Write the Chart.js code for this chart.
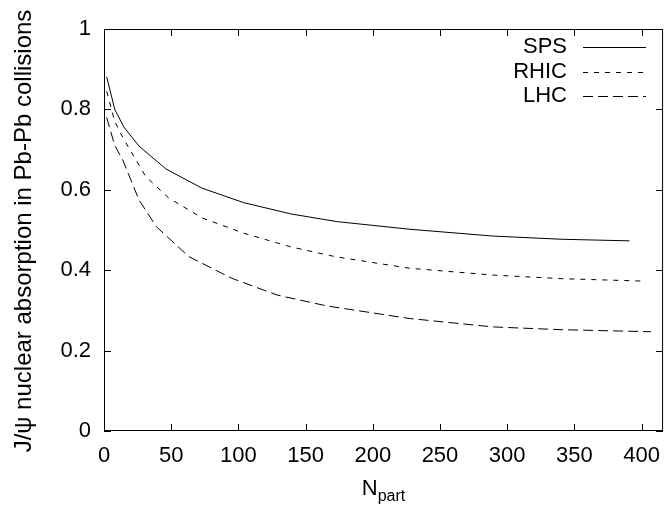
<!DOCTYPE html>
<html>
<head>
<meta charset="utf-8">
<script src="https://cdn.jsdelivr.net/npm/chart.js@4"></script>
<style>
  html, body { margin: 0; padding: 0; background: #fff; }
  #wrap { width: 672px; height: 509px; }
</style>
</head>
<body>
<div id="wrap"><canvas id="absorption-chart"></canvas></div>
<script>
// values (N_part, absorption)
const spsN    = [2, 8, 15, 26, 46, 73, 104, 139, 173, 227, 289, 340, 391];
const spsY    = [0.881, 0.80, 0.755, 0.709, 0.652, 0.604, 0.568, 0.540, 0.521, 0.502, 0.485, 0.477, 0.473];
const rhicN   = [2, 8, 14, 31, 48, 73, 104, 139, 173, 227, 289, 340, 400];
const rhicY   = [0.845, 0.77, 0.73, 0.633, 0.58, 0.53, 0.492, 0.458, 0.433, 0.405, 0.388, 0.379, 0.373];
const lhcN    = [2, 8, 14, 26, 39, 63, 95, 129, 166, 227, 289, 340, 407];
const lhcY    = [0.78, 0.71, 0.674, 0.575, 0.508, 0.434, 0.38, 0.338, 0.311, 0.28, 0.259, 0.252, 0.247];
const seriesNames = ['SPS', 'RHIC', 'LHC'];

const FONT = '"Liberation Sans", Arial, Helvetica, sans-serif';

const toPoints = (xs, ys) => xs.map((x, i) => ({ x: x, y: ys[i] }));

// frame, inward ticks on all four sides, legend and axis titles (gnuplot look)
const gnuplotFrame = {
  id: 'gnuplotFrame',
  afterDraw(chart) {
    const { ctx, chartArea: a, scales } = chart;
    const tick = 7;
    ctx.save();
    ctx.strokeStyle = '#000';
    ctx.lineWidth = 1;
    ctx.strokeRect(a.left + 0.5, a.top + 0.5, a.right - a.left - 1, a.bottom - a.top - 1);

    ctx.beginPath();
    scales.x.ticks.forEach(t => {
      const px = Math.round(scales.x.getPixelForValue(t.value)) + 0.5;
      ctx.moveTo(px, a.bottom); ctx.lineTo(px, a.bottom - tick);
      ctx.moveTo(px, a.top); ctx.lineTo(px, a.top + tick);
    });
    scales.y.ticks.forEach(t => {
      const py = Math.round(scales.y.getPixelForValue(t.value)) + 0.5;
      ctx.moveTo(a.left, py); ctx.lineTo(a.left + tick, py);
      ctx.moveTo(a.right, py); ctx.lineTo(a.right - tick, py);
    });
    ctx.stroke();

    // legend: text right aligned, line sample on the right
    ctx.font = '22px ' + FONT;
    ctx.fillStyle = '#000';
    ctx.textAlign = 'right';
    ctx.textBaseline = 'middle';
    chart.data.datasets.forEach((ds, i) => {
      const y = 47 + i * 24.5;
      ctx.fillText(ds.label, 567, y);
      ctx.beginPath();
      ctx.setLineDash(ds.borderDash || []);
      ctx.strokeStyle = ds.borderColor;
      ctx.lineWidth = ds.borderWidth;
      ctx.moveTo(583, Math.round(y) + 0.5);
      ctx.lineTo(646, Math.round(y) + 0.5);
      ctx.stroke();
    });
    ctx.setLineDash([]);

    // x title N_part
    ctx.textAlign = 'left';
    ctx.textBaseline = 'alphabetic';
    ctx.font = '22px ' + FONT;
    const nW = ctx.measureText('N').width;
    ctx.font = '16px ' + FONT;
    const sW = ctx.measureText('part').width;
    const x0 = (a.left + a.right) / 2 - (nW + sW) / 2;
    ctx.font = '22px ' + FONT;
    ctx.fillText('N', x0, 495);
    ctx.font = '16px ' + FONT;
    ctx.fillText('part', x0 + nW, 501);

    // y title
    ctx.font = '24px ' + FONT;
    ctx.textAlign = 'center';
    ctx.translate(31, 231);
    ctx.rotate(-Math.PI / 2);
    ctx.fillText('J/\u03c8 nuclear absorption in Pb-Pb collisions', 0, 0);
    ctx.restore();
  }
};

const ctx = document.getElementById('absorption-chart').getContext('2d');

new Chart(ctx, {
  type: 'line',
  data: {
    datasets: [
      {
        label: seriesNames[0],
        data: toPoints(spsN, spsY),
        borderColor: '#000',
        borderWidth: 1,
        pointRadius: 0,
        tension: 0,
      },
      {
        label: seriesNames[1],
        data: toPoints(rhicN, rhicY),
        borderColor: '#000',
        borderWidth: 1,
        borderDash: [5, 6],
        pointRadius: 0,
        tension: 0,
      },
      {
        label: seriesNames[2],
        data: toPoints(lhcN, lhcY),
        borderColor: '#000',
        borderWidth: 1,
        borderDash: [10, 5],
        pointRadius: 0,
        tension: 0,
      },
    ],
  },
  options: {
    responsive: true,
    maintainAspectRatio: false,
    animation: false,
    layout: { padding: { top: 29, right: 2, left: 0, bottom: 0 } },
    plugins: {
      legend: { display: false },
      tooltip: { enabled: false },
    },
    scales: {
      x: {
        type: 'linear',
        min: 0,
        max: 416,
        grid: { display: false, drawTicks: false },
        border: { display: false },
        ticks: {
          stepSize: 50,
          includeBounds: false,
          padding: 12,
          color: '#000',
          font: { family: FONT, size: 22 },
          maxRotation: 0,
        },
        afterFit: (scale) => { scale.height = 78; },
      },
      y: {
        min: 0,
        max: 1,
        grid: { display: false, drawTicks: false },
        border: { display: false },
        ticks: {
          stepSize: 0.2,
          padding: 13,
          color: '#000',
          font: { family: FONT, size: 22 },
          callback: (v) => String(+v.toFixed(1)),
        },
        afterFit: (scale) => { scale.width = 104; },
      },
    },
  },
  plugins: [gnuplotFrame],
});
</script>
</body>
</html>
